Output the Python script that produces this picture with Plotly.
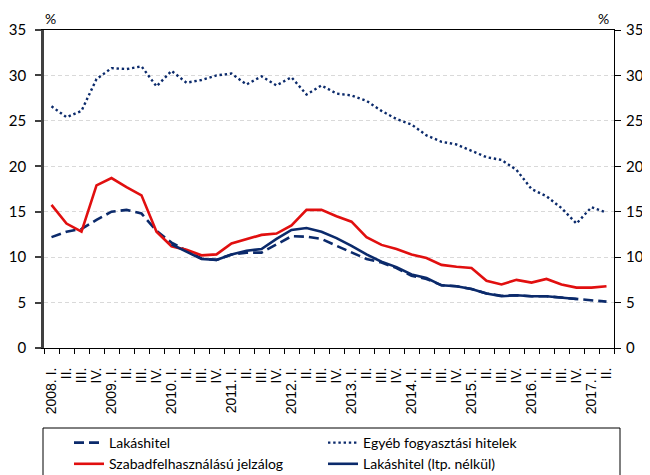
import plotly.graph_objects as go

quarter_labels = [
    "2008. I.", "II.", "III.", "IV.",
    "2009. I.", "II.", "III.", "IV.",
    "2010. I.", "II.", "III.", "IV.",
    "2011. I.", "II.", "III.", "IV.",
    "2012. I.", "II.", "III.", "IV.",
    "2013. I.", "II.", "III.", "IV.",
    "2014. I.", "II.", "III.", "IV.",
    "2015. I.", "II.", "III.", "IV.",
    "2016. I.", "II.", "III.", "IV.",
    "2017. I.", "II.",
]

lakashitel = [12.2, 12.8, 13.1, 14.1, 15.0, 15.2, 14.8, 12.9, 11.6, 10.7,
              9.85, 9.7, 10.3, 10.5, 10.5, 11.4, 12.3, 12.25, 12.0, 11.25,
              10.5, 9.8, 9.4, 8.8, 7.95, 7.6, 6.9, 6.8, 6.5, 6.0,
              5.75, 5.8, 5.7, 5.7, 5.55, 5.4, 5.25, 5.1]

egyeb = [26.6, 25.4, 26.1, 29.6, 30.8, 30.7, 31.0, 28.8, 30.5, 29.2,
         29.5, 30.0, 30.2, 29.0, 29.9, 28.9, 29.8, 27.9, 28.9, 28.0,
         27.8, 27.2, 26.1, 25.2, 24.6, 23.4, 22.7, 22.4, 21.7, 21.0,
         20.7, 19.6, 17.5, 16.7, 15.4, 13.7, 15.5, 14.9]

szabad = [15.75, 13.7, 12.8, 17.9, 18.7, 17.7, 16.8, 12.8, 11.2, 10.8,
          10.2, 10.3, 11.5, 12.0, 12.45, 12.6, 13.5, 15.2, 15.2, 14.5,
          13.9, 12.2, 11.35, 10.9, 10.3, 9.9, 9.15, 8.95, 8.8, 7.4,
          7.0, 7.5, 7.2, 7.6, 7.0, 6.65, 6.65, 6.8]

lakas_ltp = [None, None, None, None, None, None, None, None, 11.4, 10.6,
             9.8, 9.7, 10.3, 10.7, 10.9, 12.0, 13.0, 13.2, 12.8, 12.1,
             11.25, 10.3, 9.5, 8.9, 8.1, 7.7, 6.9, 6.8, 6.5, 6.0,
             5.7, 5.8, 5.7, 5.7, 5.55, 5.4, None, None]

y_ticks = [0, 5, 10, 15, 20, 25, 30, 35]

NAVY = "#0b2a6b"
RED = "#e10f0f"

xs = list(range(len(quarter_labels)))

fig = go.Figure()
fig.add_trace(go.Scatter(x=xs, y=lakashitel, mode="lines", name="Lakáshitel",
                         line=dict(color=NAVY, width=2.6, dash="10px,5px")))
fig.add_trace(go.Scatter(x=xs, y=egyeb, mode="lines", name="Egyéb fogyasztási hitelek",
                         line=dict(color=NAVY, width=2.4, dash="2.4px,2.8px")))
fig.add_trace(go.Scatter(x=xs, y=szabad, mode="lines", name="Szabadfelhasználású jelzálog",
                         line=dict(color=RED, width=2.6)))
fig.add_trace(go.Scatter(x=xs, y=lakas_ltp, mode="lines", name="Lakáshitel (ltp. nélkül)",
                         line=dict(color=NAVY, width=2.6), connectgaps=False))
# dummy trace to activate right axis
fig.add_trace(go.Scatter(x=[xs[0]], y=[None], yaxis="y2", showlegend=False, hoverinfo="skip"))
# dummy trace for boundary ticks axis
fig.add_trace(go.Scatter(x=[xs[0]], y=[None], xaxis="x2", showlegend=False, hoverinfo="skip"))

n = len(quarter_labels)
boundaries = [i - 0.5 for i in range(n + 1)]

tickfont_y = dict(family="Lato, Open Sans, sans-serif", size=15, color="#000000")

fig.update_layout(
    width=642, height=467,
    margin=dict(l=36, r=36, t=22, b=127, autoexpand=False),
    paper_bgcolor="white", plot_bgcolor="white",
    showlegend=True,
    xaxis=dict(range=[-0.5, n - 0.5], tickmode="array", tickvals=xs, ticktext=quarter_labels,
               tickangle=-90, ticks="", showgrid=False, zeroline=False,
               showline=True, linecolor="#000000", linewidth=1, mirror=True,
               tickfont=dict(family="Liberation Sans, Arial, sans-serif", size=14, color="#000000"),
               ticklabelstandoff=13),
    xaxis2=dict(range=[-0.5, n - 0.5], overlaying="x", side="bottom", anchor="y",
                tickmode="array", tickvals=boundaries, showticklabels=False,
                ticks="outside", ticklen=5, tickcolor="#000000", tickwidth=1,
                showgrid=False, zeroline=False, showline=False),
    yaxis=dict(range=[0, 35], tickmode="array", tickvals=y_ticks, ticks="outside", ticklen=6,
               tickcolor="#404040", tickwidth=1.5,
               showline=True, linecolor="#404040", linewidth=2.5,
               showgrid=True, gridcolor="#d9d9d9", griddash="4px,3px", gridwidth=1,
               zeroline=False, tickfont=tickfont_y, ticklabelstandoff=6),
    yaxis2=dict(range=[0, 35], tickmode="array", tickvals=y_ticks, ticks="outside", ticklen=6,
                tickcolor="#000000", overlaying="y", side="right", anchor="x",
                showline=True, linecolor="#000000", linewidth=1,
                showgrid=False, zeroline=False, tickfont=tickfont_y, ticklabelstandoff=2),
    legend=dict(orientation="h", x=(69 - 44) / 570, xanchor="left",
                y=(348 - 427) / 318, yanchor="top",
                entrywidth=209, entrywidthmode="pixels", traceorder="normal",
                font=dict(family="Lato, Open Sans, sans-serif", size=14, color="#000000"),
                bgcolor="rgba(0,0,0,0)", borderwidth=0, itemwidth=30),
    shapes=[dict(type="rect", xref="paper", yref="paper",
                 x0=(43 - 44) / 570, x1=(620 - 44) / 570,
                 y0=(348 - 428) / 318, y1=(348 - 500) / 318,
                 line=dict(color="#000000", width=1), fillcolor="rgba(0,0,0,0)")],
    annotations=[
        dict(text="%", xref="paper", yref="paper", x=(50 - 44) / 570, y=(348 - 18) / 318,
             showarrow=False, xanchor="center", yanchor="middle",
             font=dict(family="Lato, Open Sans, sans-serif", size=14, color="#000000")),
        dict(text="%", xref="paper", yref="paper", x=(603 - 44) / 570, y=(348 - 18) / 318,
             showarrow=False, xanchor="center", yanchor="middle",
             font=dict(family="Lato, Open Sans, sans-serif", size=14, color="#000000")),
    ],
)

fig.write_html("out.html")
